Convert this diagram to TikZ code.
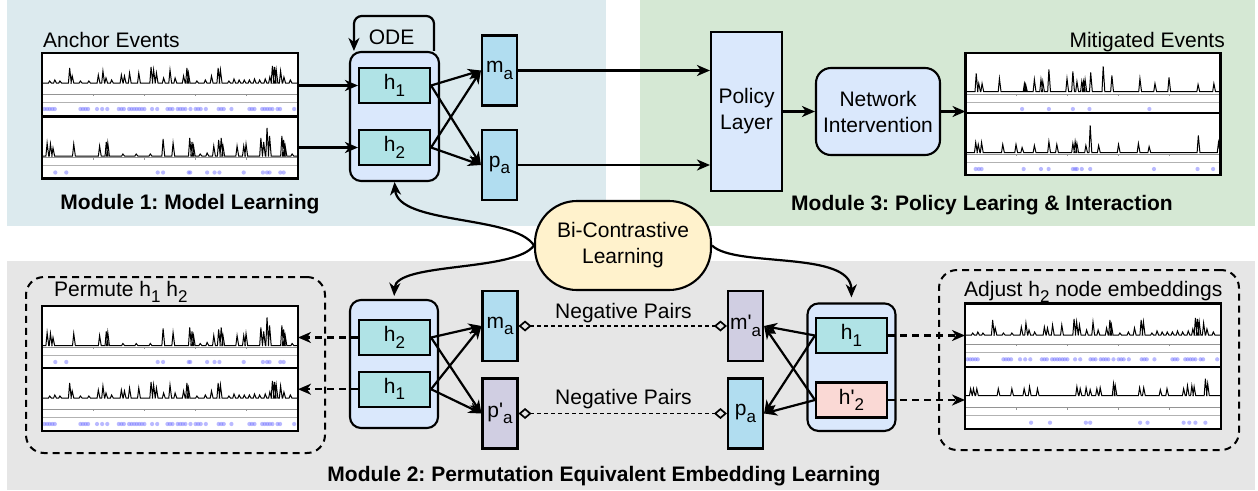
\documentclass[tikz,border=0pt]{standalone}
\usepackage{fontspec}
\setmainfont{Liberation Sans}
\usetikzlibrary{arrows.meta}
\definecolor{bgone}{RGB}{220,234,238}
\definecolor{bgthree}{RGB}{213,232,212}
\definecolor{bgtwo}{RGB}{230,230,230}
\definecolor{odefill}{RGB}{218,232,252}
\definecolor{hfill}{RGB}{176,227,230}
\definecolor{mfill}{RGB}{177,221,240}
\definecolor{pfill}{RGB}{208,206,226}
\definecolor{rfill}{RGB}{250,217,213}
\definecolor{yfill}{RGB}{255,242,204}
\definecolor{evdotc}{RGB}{100,100,255}

\frenchspacing
\newcommand\lsub[1]{\raisebox{-0.3em}{\fontsize{17}{17}\selectfont #1}}

\def\spA{0.03/2,0.05/3,0.07/2,0.108/15,0.118/7,0.15/2,0.183/2,0.22/8,0.238/12,0.25/5,0.272/3,0.31/8,0.322/7,0.342/10,0.378/10,0.426/16,0.436/13,0.447/10,0.475/5,0.5/13,0.52/5,0.553/7,0.566/15,0.572/10,0.605/2,0.638/3,0.662/7,0.688/15,0.697/13,0.73/2,0.75/4,0.77/3,0.79/3,0.81/3,0.83/4,0.85/3,0.872/4,0.89/6,0.9/17,0.908/16,0.915/13,0.932/12,0.945/6,0.97/3}
\def\dtA{0.01,0.02,0.03,0.04,0.05,0.15,0.16,0.17,0.18,0.215,0.235,0.255,0.3,0.31,0.32,0.34,0.35,0.36,0.37,0.38,0.39,0.4,0.43,0.45,0.49,0.5,0.51,0.53,0.54,0.55,0.56,0.58,0.6,0.61,0.62,0.64,0.69,0.7,0.71,0.74,0.81,0.82,0.83,0.86,0.87,0.88,0.89,0.9,0.92,0.93,0.985}
\def\spB{0.02/13,0.033/12,0.043/8,0.124/12,0.225/10,0.251/14,0.257/13,0.316/2,0.368/2,0.423/2,0.473/17,0.512/13,0.577/18,0.586/14,0.592/10,0.618/2,0.645/3,0.671/10,0.69/16,0.7/18,0.707/10,0.762/10,0.788/10,0.797/12,0.855/18,0.866/14,0.879/28,0.889/20,0.937/20,0.944/16,0.95/10,0.977/2}
\def\dtB{0.052,0.095,0.452,0.473,0.573,0.579,0.645,0.674,0.693,0.788,0.863,0.879,0.889,0.931,0.944}
\def\spC{0.042/18,0.052/8,0.065/8,0.133/13,0.231/8,0.236/7,0.27/12,0.296/12,0.303/10,0.327/22,0.398/13,0.421/20,0.437/10,0.456/10,0.463/10,0.469/12,0.491/19,0.54/25,0.574/16,0.684/13,0.743/8,0.798/14,0.912/7,0.974/8}
\def\dtC{0.222,0.327,0.421,0.486,0.721}
\def\spD{0.04/10,0.05/8,0.063/10,0.146/8,0.198/8,0.222/5,0.27/7,0.327/11,0.358/8,0.421/9,0.43/11,0.437/9,0.472/7,0.489/27,0.522/7,0.6/8,0.678/9,0.72/6,0.913/17,0.992/10}
\def\dtD{0.04,0.052,0.063,0.228,0.296,0.326,0.421,0.43,0.437,0.456,0.489,0.739,0.91,0.971}
\def\spE{0.022/7,0.033/7,0.046/7,0.13/7,0.183/7,0.231/7,0.252/9,0.283/7,0.437/9,0.45/7,0.473/8,0.489/6,0.515/7,0.528/8,0.58/12,0.587/10,0.682/8,0.698/8,0.763/6,0.789/7,0.854/7,0.869/10,0.886/10,0.895/9,0.939/17,0.948/12}
\def\dtE{0.258,0.332,0.472,0.489,0.684,0.713,0.854,0.876,0.9,0.939}

\tikzset{
 boxline/.style={draw=black, line width=2.1pt},
 odebox/.style={boxline, fill=odefill, rounded corners=11pt, inner sep=0pt},
 hbox/.style={boxline, fill=hfill, minimum width=71pt, minimum height=35pt, inner sep=0pt},
 vbox/.style={boxline, minimum width=35pt, minimum height=70pt, inner sep=0pt},
 arr/.style={line width=2.2pt, -{Stealth[length=13pt,width=11pt,inset=4pt]}},
 darr/.style={arr, dash pattern=on 7pt off 5pt},
 dbox/.style={draw, line width=2pt, dash pattern=on 7pt off 5pt, rounded corners=18pt, inner sep=0pt},
 negpair/.style={line width=1.5pt, dash pattern=on 4pt off 3pt, {Diamond[open,length=13pt,width=11pt,line width=1.7pt]}-{Diamond[open,length=13pt,width=11pt,line width=1.7pt]}},
 panelbox/.style={fill=white, inner sep=0pt, outer sep=0pt},
 panelborder/.style={draw, line width=2.4pt},
 axisline/.style={draw=black!42, line width=1pt},
 axisline2/.style={draw=black!30, line width=1pt},
 spike/.style={line width=1pt, line join=miter},
 evdot/.style={fill=evdotc, fill opacity=0.45},
 lbl/.style={inner sep=0pt},
 modlbl/.style={inner sep=0pt, font=\fontsize{21}{26}\selectfont\bfseries},
}

% #1 name, #2 x, #3 y, #4 width, #5 height, #6 baseline offset, #7 spikes, #8 dots
\newcommand\evpanel[8]{%
  \node[panelbox, minimum width=#4, minimum height=#5, anchor=north west] (#1) at (#2,#3) {};
  \draw[axisline] (#2,{#3+41}) -- ({#2+#4},{#3+41});
  \draw[axisline2] (#2,{#3+49}) -- ({#2+#4},{#3+49});
  \foreach \tk in {0.2,0.4,0.6,0.8} \draw[axisline] ({#2+\tk*#4},{#3+41}) -- ++(0,2);
  \draw[spike] ({#2+1},{#3+#6}) \foreach \ppos/\phgt in #7 { -- ({#2+\ppos*#4-1.2},{#3+#6}) -- ({#2+\ppos*#4},{#3+#6-\phgt}) -- ({#2+\ppos*#4+1.6},{#3+#6}) } -- ({#2+#4-1},{#3+#6});
  \foreach \ppos in #8 { \fill[evdot] ({#2+\ppos*#4},{#3+56}) circle[radius=2.1pt]; }
  \draw[panelborder] (#1.north west) rectangle (#1.south east);
}

\begin{document}
\begin{tikzpicture}[x=1pt,y=-1pt,font=\fontsize{21}{26}\selectfont]
\useasboundingbox (0,0) rectangle (1258,490);
% backgrounds
\fill[bgone] (7,0) rectangle (606,226);
\fill[bgthree] (640,0) rectangle (1255,226);
\fill[bgtwo] (7,261) rectangle (1255,490);

% dashed group boxes
\node[dbox, minimum width=299, minimum height=176, anchor=north west] (permgrp) at (25,276) {};
\node[dbox, minimum width=300, minimum height=180, anchor=north west] (adjgrp) at (938,269) {};

% event panels
\evpanel{anchT}{42}{53}{256}{63.5}{30}{\spA}{\dtA}
\evpanel{anchB}{42}{116.5}{256}{62}{39.5}{\spB}{\dtB}
\evpanel{mitT}{965.5}{53}{255}{60}{38.5}{\spC}{\dtC}
\evpanel{mitB}{965.5}{113}{255}{62}{39.5}{\spD}{\dtD}
\evpanel{permT}{42}{306}{256}{62}{39.5}{\spB}{\dtB}
\evpanel{permB}{42}{368}{256}{63}{30}{\spA}{\dtA}
\evpanel{adjT}{965}{303.3}{256}{63.4}{31.7}{\spA}{\dtA}
\evpanel{adjB}{965}{366.7}{256}{62.3}{29}{\spE}{\dtE}

% labels
\node[lbl, anchor=base west] (anchlbl) at (43,47) {Anchor Events};
\node[lbl, anchor=base east] (mitlbl) at (1225,47) {Mitigated Events};
\node[lbl, anchor=base west] (permlbl) at (54,296.5) {Permute h\lsub{1} h\lsub{2}};
\node[lbl, anchor=base west] (adjlbl) at (964,296) {Adjust h\lsub{2} node embeddings};
\node[modlbl, anchor=base] (mod1) at (190,209) {Module 1: Model Learning};
\node[modlbl, anchor=base] (mod3) at (982,210.5) {Module 3: Policy Learing \& Interaction};
\node[modlbl, anchor=base] (mod2) at (604,481.5) {Module 2: Permutation Equivalent Embedding Learning};

% module 1 nodes
\node[odebox, minimum width=89, minimum height=129] (odeT) at (394.5,116.5) {};
\node[hbox] (h1T) at (394.5,85.5) {h\lsub{1}};
\node[hbox] (h2T) at (394.5,147.5) {h\lsub{2}};
\node[vbox, fill=mfill] (maT) at (499.5,70.5) {m\lsub{a}};
\node[vbox, fill=mfill] (paT) at (499.5,165) {p\lsub{a}};

% module 3 nodes
\node[boxline, fill=odefill, minimum width=71, minimum height=159, align=center, inner sep=0pt] (policy) at (746.5,111.5) {Policy\\Layer};
\node[boxline, fill=odefill, rounded corners=15pt, minimum width=124, minimum height=87, align=center, inner sep=0pt] (netint) at (878,111.5) {Network\\Intervention};

% bi-contrastive
\node[boxline, fill=yfill, rounded corners=42pt, minimum width=176, minimum height=89, align=center, inner sep=0pt] (bicon) at (623,245.5) {Bi-Contrastive\\Learning};

% module 2 nodes
\node[odebox, minimum width=88, minimum height=128] (odeL) at (394,364) {};
\node[hbox] (h2L) at (394.5,337.5) {h\lsub{2}};
\node[hbox] (h1L) at (394.5,389.2) {h\lsub{1}};
\node[vbox, fill=mfill] (maL) at (500,326) {m\lsub{a}};
\node[vbox, fill=pfill] (paL) at (500,413.5) {p\textquotesingle\lsub{a}};
\node[vbox, fill=pfill] (maR) at (745.5,326) {m\textquotesingle\lsub{a}};
\node[vbox, fill=mfill] (paR) at (745.5,413.5) {p\lsub{a}};
\node[odebox, minimum width=88, minimum height=127.5] (odeR) at (851.5,367.2) {};
\node[hbox] (h1R) at (851.5,335.5) {h\lsub{1}};
\node[hbox, fill=rfill] (h2R) at (851.5,400) {h\textquotesingle\lsub{2}};

% module 1 connectors
\draw[arr] (anchT.east |- h1T.west) -- (h1T.west);
\draw[arr] (anchB.east |- h2T.west) -- (h2T.west);
\foreach \src in {h1T,h2T} \foreach \dst in {maT,paT} \draw[arr] (\src.east) -- (\dst.west);
\draw[arr, rounded corners=8pt] ([xshift=-6pt]odeT.north east) -- ++(0,-35) -| ([xshift=5pt]odeT.north west);
\node[lbl, anchor=base] (odelbl) at (391.5,44) {ODE};

% module 3 connectors
\draw[arr] (maT.east) -- (maT.east -| policy.west);
\draw[arr] (paT.east) -- (paT.east -| policy.west);
\draw[arr] (policy.east) -- (netint.west);
\draw[arr] (netint.east) -- (netint.east -| mitT.west);

% bi-contrastive connectors
\draw[arr] (bicon.west) .. controls (515,215) and (398,225) .. (odeT.south);
\draw[arr, shorten >=3pt] (bicon.west) .. controls (515,272) and (396,262) .. (odeL.north);
\draw[arr, shorten >=5pt] (bicon.east) .. controls (735,268) and (851,250) .. (odeR.north);

% module 2 connectors
\draw[darr] (h2L.west) -- (h2L.west -| permT.east);
\draw[darr] (h1L.west) -- (h1L.west -| permB.east);
\foreach \src in {h2L,h1L} \foreach \dst in {maL,paL} \draw[arr] (\src.east) -- (\dst.west);
\foreach \src in {h1R,h2R} \foreach \dst in {maR,paR} \draw[arr] (\src.west) -- (\dst.east);
\draw[negpair] (maL.east) -- (maR.west);
\draw[negpair] (paL.east) -- (paR.west);
\node[lbl, anchor=base] (neg1) at (623.5,318.3) {Negative Pairs};
\node[lbl, anchor=base] (neg2) at (623.5,404.3) {Negative Pairs};
\draw[darr] (h1R.east) -- (h1R.east -| adjT.west);
\draw[darr] (h2R.east) -- (h2R.east -| adjB.west);
\end{tikzpicture}
\end{document}
